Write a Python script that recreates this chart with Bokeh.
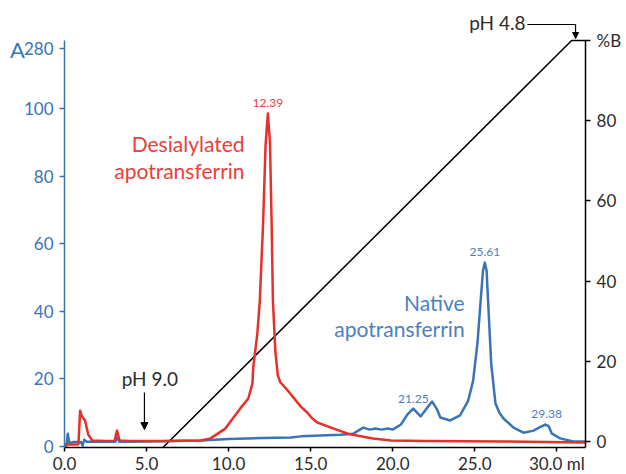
from bokeh.plotting import figure
from bokeh.models import (Range1d, LinearAxis, FixedTicker, Label, Arrow, NormalHead)
from bokeh.embed import file_html
from bokeh.resources import INLINE
from bokeh.core.properties import value

# ---------------- data ----------------
red_ml = [0.0, 0.6, 0.85, 0.95, 1.05, 1.25, 1.45, 1.7, 2.5, 3.05, 3.2, 3.35, 4.0, 6.0,
          8.3, 8.9, 9.8, 10.3, 10.7, 11.2, 11.45, 11.5, 11.75, 11.9, 12.1, 12.25, 12.39,
          12.52, 12.62, 12.7, 12.85, 13.0, 13.15, 13.7, 14.4, 14.8, 15.1, 15.4, 16.4, 17.4,
          18.8, 19.9, 22.0, 26.6, 31.75]
red_A = [0.6, 0.6, 0.7, 10.6, 9.0, 7.7, 3.5, 1.8, 1.6, 1.7, 4.7, 1.8, 1.6, 1.6,
         1.8, 2.4, 5.3, 8.6, 11.2, 14.2, 18.6, 23.4, 33.4, 43.0, 66.0, 89.0, 98.5,
         90.0, 66.0, 43.0, 28.0, 21.0, 19.0, 16.0, 11.8, 10.0, 8.3, 7.1, 5.3, 3.6,
         2.4, 1.8, 1.6, 1.5, 1.2]

blue_ml = [0.0, 0.12, 0.2, 0.3, 0.5, 1.0, 1.1, 1.2, 1.35, 3.1, 3.2, 3.35, 5.0, 8.3, 10.0,
           12.0, 13.8, 14.4, 16.8, 17.6, 18.2, 18.6, 18.95, 19.3, 19.7, 20.0, 20.5, 20.9,
           21.25, 21.7, 22.1, 22.4, 22.7, 22.9, 23.5, 24.1, 24.6, 24.9, 25.17, 25.37, 25.5,
           25.61, 25.72, 25.8, 26.0, 26.26, 26.5, 26.75, 27.36, 27.97, 28.58, 29.0, 29.3,
           29.5, 29.7, 30.2, 31.0, 31.75]
blue_A = [0.0, 0.3, 3.8, 1.0, 1.3, 1.3, 0.3, 2.0, 1.4, 1.4, 2.6, 1.4, 1.5, 1.8, 2.2,
          2.5, 2.7, 3.0, 3.5, 3.8, 5.6, 5.0, 5.3, 5.0, 5.3, 5.0, 6.5, 9.5,
          11.2, 8.9, 11.5, 13.3, 11.0, 8.6, 7.7, 9.2, 13.6, 19.5, 31.0, 44.0, 52.0,
          54.4, 52.0, 44.0, 24.5, 12.7, 10.0, 8.3, 5.6, 4.1, 4.7, 5.8, 6.5,
          6.0, 3.8, 2.4, 1.5, 1.5]

gradient_ml = [6.0, 30.9, 31.75]
gradient_B = [-1.5, 100.0, 100.0]

red_peaks_ml = [12.39]
red_peaks_A = [98.5]
blue_peaks_ml = [21.25, 25.61, 29.38]
blue_peaks_A = [11.2, 54.4, 6.5]

x_ticks = [0, 5, 10, 15, 20, 25, 30]
x_tick_labels = ["0.0", "5.0", "10.0", "15.0", "20.0", "25.0", "30.0 ml"]
a_ticks = [0, 20, 40, 60, 80, 100, 117.8]
a_tick_labels = ["0", "20", "40", "60", "80", "100", "280"]
b_ticks = [0, 20, 40, 60, 80, 100]
b_tick_labels = ["0", "20", "40", "60", "80", "%B"]

X_END = 31.75      # ml at right axis
A_BOUNDS = (-0.3, 120.1)
B_BOUNDS = (-1.5, 100.0)

RED = "#e5302b"
BLUE = "#3a73b7"
RED_TXT = "#e8413b"
BLUE_TXT = "#4a80c2"
DARK = "#2b2b2b"
FONT = "Lato"

p = figure(width=622, height=474, output_backend="svg", toolbar_location=None,
           x_range=Range1d(-3.90, 34.00), y_range=Range1d(-8.28, 131.95),
           min_border=0)
p.xaxis.visible = False
p.yaxis.visible = False
p.grid.visible = False
p.outline_line_color = None
p.background_fill_color = "white"
p.extra_y_ranges = {"B": Range1d(-8.23, 109.98)}

xa = LinearAxis(ticker=FixedTicker(ticks=x_ticks), fixed_location=A_BOUNDS[0],
                bounds=(0, X_END),
                major_label_overrides={t: l for t, l in zip(x_ticks, x_tick_labels)})
ya = LinearAxis(ticker=FixedTicker(ticks=a_ticks), fixed_location=0, bounds=A_BOUNDS,
                major_label_overrides={t: l for t, l in zip(a_ticks, a_tick_labels)})
yb = LinearAxis(y_range_name="B", ticker=FixedTicker(ticks=b_ticks), fixed_location=X_END,
                bounds=B_BOUNDS,
                major_label_overrides={t: l for t, l in zip(b_ticks, b_tick_labels)})

for ax, col, lcol, out, stand in ((xa, "black", DARK, 4, 1), (ya, BLUE, BLUE, 5, 6),
                                  (yb, "black", DARK, 5, 6)):
    ax.axis_line_color = col
    ax.axis_line_width = 1.5
    ax.major_tick_line_color = col
    ax.major_tick_line_width = 1.5
    ax.major_tick_in = 0
    ax.major_tick_out = out
    ax.minor_tick_line_color = None
    ax.major_label_text_color = lcol
    ax.major_label_text_font = FONT
    ax.major_label_text_font_size = "17px"
    ax.major_label_standoff = stand

p.add_layout(xa, "below")
p.add_layout(ya, "left")
p.add_layout(yb, "right")

# gradient line
p.line(gradient_ml, gradient_B, y_range_name="B", line_color="black", line_width=1.5)
# curves
p.line(blue_ml, blue_A, line_color=BLUE, line_width=2.5, line_join="round")
p.line(red_ml, red_A, line_color=RED, line_width=2.5, line_join="round")

# peak labels
p.text(x=red_peaks_ml, y=[a + 3.0 for a in red_peaks_A], text=[f"{v:.2f}" for v in red_peaks_ml],
       text_color=RED_TXT, text_font=value(FONT), text_font_size="12px",
       text_align="center", text_baseline="middle")
p.text(x=blue_peaks_ml, y=[a + 3.0 for a in blue_peaks_A], text=[f"{v:.2f}" for v in blue_peaks_ml],
       text_color=BLUE_TXT, text_font=value(FONT), text_font_size="12px",
       text_align="center", text_baseline="middle")

def lab(x, y, t, color, size, align="right", rng="default", baseline="middle"):
    p.add_layout(Label(x=x, y=y, text=t, text_color=color, text_font=FONT,
                       text_font_size=size, text_align=align, text_baseline=baseline,
                       y_range_name=rng))

lab(10.97, 89.6, "Desialylated", RED_TXT, "21px")
lab(10.97, 81.7, "apotransferrin", RED_TXT, "21px")
lab(24.38, 42.6, "Native", BLUE_TXT, "21px")
lab(24.38, 34.9, "apotransferrin", BLUE_TXT, "21px")
lab(-3.32, 117.5, "A", BLUE, "22px", align="left", baseline="alphabetic")
lab(5.2, 20.0, "pH 9.0", DARK, "19px", align="center")
lab(28.09, 104.5, "pH 4.8", DARK, "19px", align="right", rng="B")

# arrows
p.add_layout(Arrow(end=NormalHead(size=7, fill_color="black", line_color="black"),
                   x_start=4.87, y_start=16.0, x_end=4.87, y_end=5.0,
                   line_color="black", line_width=1.2))
p.add_layout(Arrow(end=None, x_start=28.2, y_start=104.0, x_end=31.14, y_end=104.0,
                   y_range_name="B", line_color="black", line_width=1.2))
p.add_layout(Arrow(end=NormalHead(size=6, fill_color="black", line_color="black"),
                   x_start=31.14, y_start=104.0, x_end=31.14, y_end=100.5,
                   y_range_name="B", line_color="black", line_width=1.2))

open("out.html", "w").write(file_html(p, INLINE))
